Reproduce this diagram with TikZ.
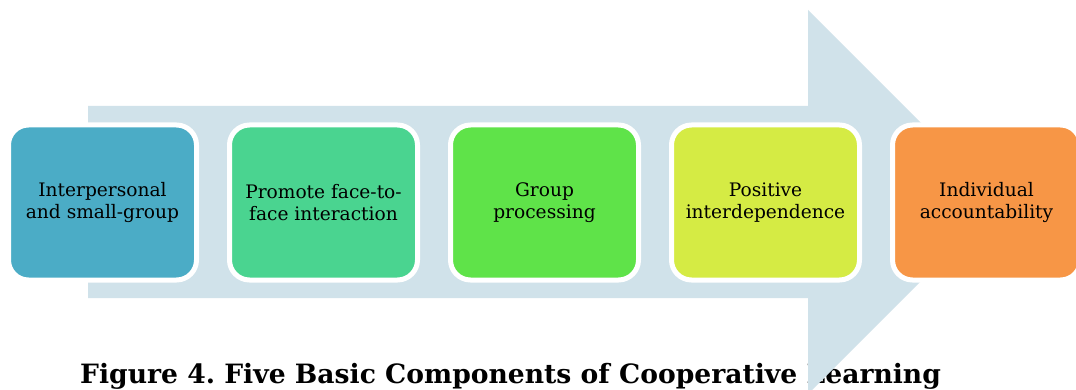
\documentclass[tikz,border=0pt]{standalone}
\usepackage{fontspec}
\setmainfont{DejaVu Serif}
\definecolor{arrowc}{HTML}{D0E2EA}
\definecolor{cA}{HTML}{4BACC6}
\definecolor{cB}{HTML}{4AD490}
\definecolor{cC}{HTML}{5FE349}
\definecolor{cD}{HTML}{D5EB44}
\definecolor{cE}{HTML}{F79646}
\tikzset{
  stage/.style={draw=white, line width=5pt, rounded corners=20pt,
    minimum width=188pt, minimum height=155pt, inner sep=0pt,
    align=center, text=black, font=\fontsize{18.6}{22}\selectfont},
  caption/.style={anchor=base west, inner sep=0pt, font=\bfseries\fontsize{26.6}{30}\selectfont}
}
\begin{document}
\frenchspacing
\begin{tikzpicture}[x=1pt,y=-1pt]
\useasboundingbox (0,0) rectangle (1076,390);
\clip (0,0) rectangle (1076,390);
\fill[white] (0,0) rectangle (1076,390);
\node[caption] (cap) at (80,383) {Figure 4. Five Basic Components of Cooperative Learning};
\fill[arrowc] (88,106) -- (808,106) -- (808,10) -- (1000,202) -- (808,394) -- (808,298) -- (88,298) -- cycle;
\node[stage, fill=cA] (s1) at (102.5,202.5) {Interpersonal\\and small-group};
\node[stage, fill=cB] (s2) at (323.5,202.5) {Promote face-to-\\face interaction};
\node[stage, fill=cC] (s3) at (544.5,202.5) {Group\\processing};
\node[stage, fill=cD] (s4) at (765.5,202.5) {Positive\\interdependence};
\node[stage, fill=cE] (s5) at (986.5,202.5) {Individual\\accountability};
\end{tikzpicture}
\end{document}
